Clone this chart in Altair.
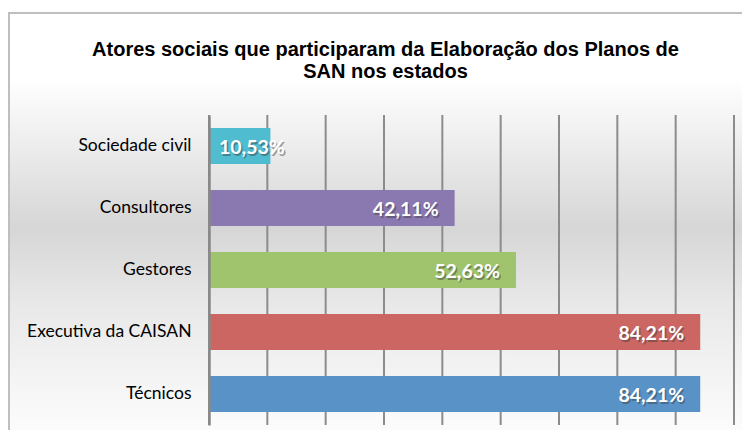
import altair as alt
import pandas as pd

categories = ["Sociedade civil", "Consultores", "Gestores", "Executiva da CAISAN", "Técnicos"]
values = [10.53, 42.11, 52.63, 84.21, 84.21]
labels = ["10,53%", "42,11%", "52,63%", "84,21%", "84,21%"]
colors = ["#4FBCD0", "#8A78B1", "#A0C46E", "#CB6662", "#5892C7"]
grid_values = [0, 10, 20, 30, 40, 50, 60, 70, 80, 90]
title_lines = ["Atores sociais que participaram da Elaboração dos Planos de", "SAN nos estados"]

df = pd.DataFrame({"cat": categories, "pct": values, "label": labels})
grid_df = pd.DataFrame({"g": grid_values})
bg_df = pd.DataFrame({"a": [0]})

W, H = 525, 310
xscale = alt.Scale(domain=[0, 90], nice=False, zero=True)
yscale = alt.Scale(paddingInner=0.42, paddingOuter=0.21)

bg = alt.Chart(bg_df).mark_rect(
    color=alt.LinearGradient(
        gradient="linear", x1=0, x2=0, y1=0, y2=1,
        stops=[
            alt.GradientStop(color="#ffffff", offset=0.0),
            alt.GradientStop(color="#ffffff", offset=0.15),
            alt.GradientStop(color="#d6d6d6", offset=0.48),
            alt.GradientStop(color="#e8e9e8", offset=0.66),
            alt.GradientStop(color="#fbfbfb", offset=0.92),
            alt.GradientStop(color="#ffffff", offset=1.0),
        ],
    ),
    stroke="#bfbfbf", strokeWidth=2,
).encode(
    x=alt.value(-200), x2=alt.value(580),
    y=alt.value(-102), y2=alt.value(345),
)

grid = alt.Chart(grid_df).mark_rule(color="#8c8c8c", strokeWidth=2).encode(
    x=alt.X("g:Q", scale=xscale, axis=None),
    y=alt.value(0), y2=alt.value(H),
)

ycat = alt.Y(
    "cat:N", sort=categories, scale=yscale, title=None,
    axis=alt.Axis(
        domain=True, domainColor="#888888", domainWidth=2.5, ticks=False,
        labelFont="Lato", labelFontSize=17.5, labelColor="#000000",
        labelPadding=18, grid=False, zindex=1,
    ),
)

bars = alt.Chart(df).mark_bar().encode(
    x=alt.X("pct:Q", scale=xscale, axis=None),
    y=ycat,
    color=alt.Color("cat:N", scale=alt.Scale(domain=categories, range=colors), legend=None),
)

small = alt.datum.pct < 20
big = alt.datum.pct >= 20
FS = 19.5

x_end = alt.X("pct:Q", scale=xscale, axis=None)
x_start = alt.X("z:Q", scale=xscale, axis=None)

def big_layer(color, opacity, off):
    return alt.Chart(df).transform_filter(big).mark_text(
        align="right", baseline="middle", dx=-16 + off, dy=2 + off,
        font="Lato", fontSize=FS, fontWeight="bold", color=color, opacity=opacity,
    ).encode(x=x_end, y=ycat, text="label:N")

def small_layer(color, opacity, off):
    return alt.Chart(df).transform_filter(small).transform_calculate(z="0").mark_text(
        align="left", baseline="middle", dx=10 + off, dy=2 + off,
        font="Lato", fontSize=FS, fontWeight="bold", color=color, opacity=opacity,
    ).encode(x=x_start, y=ycat, text="label:N")

chart = alt.layer(
    bg, grid, bars,
    big_layer("#3a3a3a", 0.45, 1.5), small_layer("#3a3a3a", 0.45, 1.5),
    big_layer("#ffffff", 1.0, 0), small_layer("#ffffff", 1.0, 0),
).properties(
    width=W, height=H,
    title=alt.TitleParams(
        text=title_lines, font="Liberation Sans", fontSize=20, fontWeight="bold",
        color="#000000", anchor="middle", frame="group", dx=-86, offset=0, dy=70,
        lineHeight=22,
    ),
    autosize=alt.AutoSizeParams(type="none"),
    padding={"left": 201, "top": 107, "right": 8, "bottom": 5},
).configure_view(stroke=None).configure(background="#ffffff")

chart.save("out.html", embed_options={"renderer": "svg", "actions": False})
